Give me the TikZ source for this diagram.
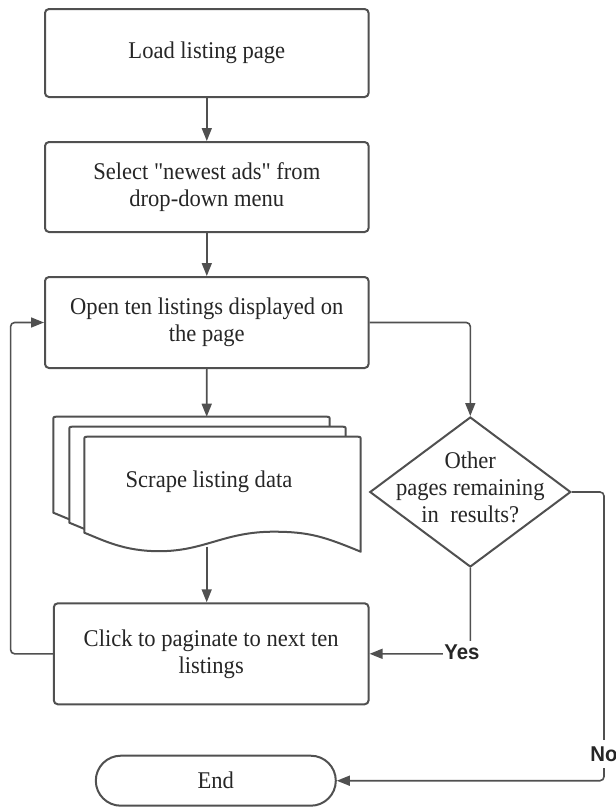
\documentclass[tikz,border=0pt]{standalone}
\usepackage{fontspec}
\setmainfont{Liberation Serif}
\newfontfamily\bodyf{Liberation Serif}[FakeStretch=0.94]
\newfontfamily\labfont{Liberation Sans}[FakeStretch=0.95]
\usetikzlibrary{arrows.meta,shapes.geometric}
\definecolor{ln}{HTML}{505050}
\definecolor{tx}{HTML}{262626}
\begin{document}
\begin{tikzpicture}[x=1pt,y=-1pt,
  every node/.style={text=tx},
  txt/.style={font=\bodyf\fontsize{24}{27}\selectfont},
  box/.style={txt,draw=ln,line width=2pt,rounded corners=4pt,fill=white,align=center,inner sep=0pt},
  sheet/.style={draw=ln,line width=2pt,fill=white,line join=round},
  arr/.style={draw=ln,line width=1.6pt,-{Triangle[length=13pt,width=10pt]},rounded corners=4pt},
  lab/.style={fill=white,font=\labfont\bfseries\fontsize{21.4}{24}\selectfont,text=black!85}]
\useasboundingbox (0,0) rectangle (616,807);
\fill[white] (0,0) rectangle (616,807);

\node[box,minimum width=323.6pt,minimum height=88pt] (b1) at (206.8,53) {Load listing page};
\node[box,minimum width=323.6pt,minimum height=90pt] (b2) at (206.8,187) {Select "newest ads" from\\drop-down menu};
\node[box,minimum width=323.6pt,minimum height=91pt] (b3) at (206.8,322.5) {Open ten listings displayed on\\the page};

% document stack
\foreach \ox/\oy in {53.3/416.7,69.3/426.7,84.3/436.7}{
  \begin{scope}[shift={(\ox,\oy)}]
    \draw[sheet] (0,96) -- (0,4) .. controls (0,0) .. (4,0) -- (272.4,0)
      .. controls (276.4,0) .. (276.4,4) -- (276.4,115)
      .. controls (240,100) and (225,95) .. (189,95)
      .. controls (140,95) and (120,114.5) .. (75,114.5)
      .. controls (40,114.5) and (20,104) .. (0,96) -- cycle;
  \end{scope}
}
\node[txt] (doc) at (209,482) {Scrape listing data};
\coordinate (doctop) at (206.7,416.7);
\coordinate (docbot) at (206.7,546.7);

\node[draw=ln,line width=2pt,diamond,minimum width=201pt,minimum height=150pt,inner sep=0pt,fill=white] (dia) at (470.3,492) {};
\node[txt,align=center] (diat) at (470.3,487) {Other\\pages remaining\\in\ \ results?};

\node[box,minimum width=314.8pt,minimum height=101pt] (b4) at (211.2,653.8) {Click to paginate to next ten\\listings};
\node[box,rounded corners=25pt,minimum width=240pt,minimum height=50pt] (endn) at (215.8,780.7) {End};

\coordinate (lc) at (10.6,0);
\coordinate (rc) at (604,780.7);

\draw[arr] (b1.south) -- (b2.north);
\draw[arr] (b2.south) -- (b3.north);
\draw[arr] (b3.south) -- (doctop);
\draw[arr] (docbot) -- (docbot |- b4.north);
\draw[arr] (b3.east) -| (dia.north);
\draw[arr] (dia.south) |- (b4.east);
\draw[arr] (dia.east) -| (rc) -- (endn.east);
\draw[arr] (b4.west) -- (b4.west -| lc) |- (b3.west);

\node[lab,inner xsep=1pt,inner ysep=3.5pt] (yes) at (462,652) {Yes};
\node[lab,inner xsep=1pt,minimum height=28pt] (no) at (604,754) {No};
\end{tikzpicture}
\end{document}
